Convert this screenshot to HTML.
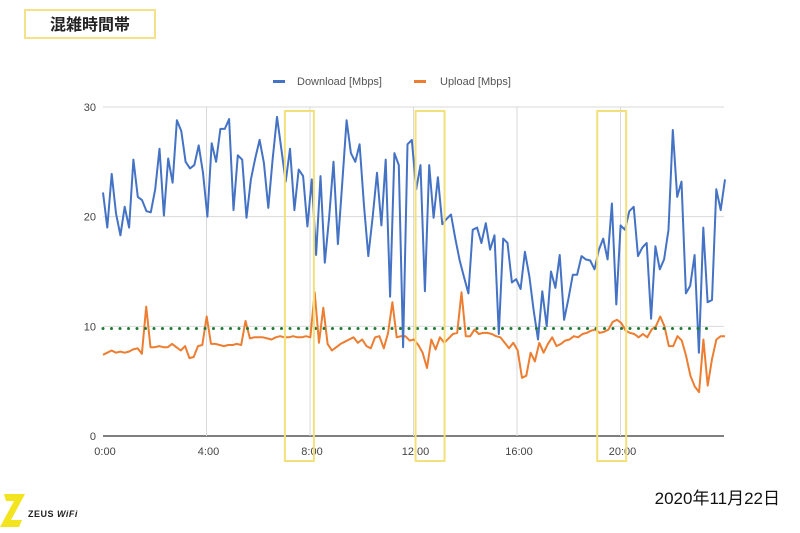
<!DOCTYPE html>
<html><head><meta charset="utf-8"><style>
body{margin:0;background:#fff;width:800px;height:533px;overflow:hidden;font-family:"Liberation Sans","Noto Sans CJK JP",sans-serif;}
</style></head><body>
<svg id="chart" width="800" height="533" xmlns="http://www.w3.org/2000/svg" style="position:absolute;left:0;top:0">
<rect x="25" y="10" width="130" height="28" fill="#fff" stroke="#f3e28a" stroke-width="2"/>
<text x="90" y="30" text-anchor="middle" font-size="16" font-weight="bold" fill="#222" font-family="Liberation Sans, Noto Sans CJK JP, sans-serif">混雑時間帯</text>
<g>
<rect x="273" y="80" width="12" height="3" fill="#4472c4"/>
<text x="297" y="85" font-size="11" fill="#555">Download [Mbps]</text>
<rect x="414" y="80" width="12" height="3" fill="#ed7d31"/>
<text x="440" y="85" font-size="11" fill="#555">Upload [Mbps]</text>
</g>
<g id="grid"></g>
<g id="series"></g>
<g id="boxes"></g>
<text x="780" y="504" text-anchor="end" font-size="17" fill="#111" font-family="Liberation Sans, Noto Sans CJK JP, sans-serif">2020年11月22日</text>
<g>
<polygon points="4,494 25,494 11,520 22,520 19,527 0,527 14,501 6,501" fill="#f2e41e"/>
<text x="28" y="517" font-size="9" font-weight="bold" fill="#222" letter-spacing="0.5">ZEUS <tspan font-style="italic">WiFi</tspan></text>
</g>
</svg>
<script>
const yTicks=[0,10,20,30];
const xTickLabels=["0:00","4:00","8:00","12:00","16:00","20:00"];
const xTickHours=[0,4,8,12,16,20];
const download=[22.2,19,23.9,20.3,18.3,20.9,19,25.2,21.8,21.5,20.5,20.4,22.5,26.2,20.1,25.3,23.1,28.8,27.8,25,24.4,24.7,26.5,24,20,26.7,25,28,28,28.9,20.6,25.6,25.2,19.9,23.4,25.3,27,24.9,20.8,25.2,29.1,26.2,23.2,26.2,20.6,24.3,23.7,19.1,
23.4,16.5,23.7,15.8,20,25,17.5,23,28.8,25.8,25,26.6,21,16.4,20,24,19.2,25.2,12.7,25.8,24.7,8.1,26.6,27,22.5,24.7,13.2,24.7,19.9,23.6,19.3,19.8,20.2,18,16,14.5,13,18.8,19,17.6,19.4,17,18.3,9.3,18,17.6,14,
14.3,13.4,16.8,14.6,11.5,8.8,13.2,10,15,13.5,16.5,10.6,12.5,14.7,14.7,16.4,16.1,16,15.2,17,18,16.1,21.2,12,19.2,18.8,20.5,20.9,16.4,17.2,17.6,10.7,17.3,15.2,16.1,18.8,27.9,21.8,23.2,13,13.7,16.5,7.6,19,12.2,12.4,22.5,20.6,23.4];
const upload=[7.4,7.6,7.8,7.6,7.7,7.6,7.7,7.9,8,7.5,11.8,8.1,8.1,8.2,8.1,8.1,8.4,8.1,7.8,8.2,7.1,7.2,8.2,8.3,10.9,8.4,8.4,8.3,8.2,8.3,8.3,8.4,8.3,10.5,8.9,9.0,9.0,9.0,8.9,8.8,9.0,9.1,9.0,9.0,9.1,9.0,9.0,9.1,
9.0,13.1,8.5,11.7,8.4,7.8,8.1,8.4,8.6,8.8,9.0,8.5,8.8,8.2,8.0,9.0,9.1,8.0,9.4,12.2,9.0,9.1,9.1,8.7,8.8,8.3,7.6,6.2,8.8,7.9,9.0,8.5,8.9,9.3,9.4,13.1,9.1,9.1,9.7,9.3,9.4,9.4,9.3,9.1,9.0,8.5,8.0,
8.5,7.8,5.3,5.5,7.6,6.8,8.5,7.6,8.4,9.0,8.2,8.4,8.7,8.8,9.1,9.0,9.3,9.4,9.6,9.7,9.4,9.5,9.7,10.4,10.6,10.3,9.6,9.4,9.3,9.0,9.3,9.0,9.7,10.0,10.9,10.0,8.2,8.2,9.1,8.7,7.3,5.5,4.5,4.0,8.8,4.6,7.0,8.8,9.1,9.1];
const threshold=[9.8];
const highlightHours=[[7.03,8.15],[12.08,13.2],[19.1,20.22]];
const NS="http://www.w3.org/2000/svg";
const X0=103,X1=724,Y0=436,Y30=107;
const xH=h=>X0+h/24*(X1-X0);
const y=v=>Y0-v/30*(Y0-Y30);
function mk(tag,attrs,parent){const e=document.createElementNS(NS,tag);for(const k in attrs)e.setAttribute(k,attrs[k]);parent.appendChild(e);return e;}
const grid=document.getElementById('grid');
yTicks.forEach(t=>{
 const l=mk('line',{x1:X0,x2:X1,y1:y(t),y2:y(t),stroke:t===0?'#333':'#d9d9d9','stroke-width':t===0?1.2:1},grid);
 
 
 const tx=mk('text',{x:96,y:y(t)+4,'text-anchor':'end','font-size':11,fill:'#444'},grid);tx.textContent=t;
 
 
});
xTickHours.forEach((h,i)=>{
 if(h>0){const l=mk('line',{x1:xH(h),x2:xH(h),y1:Y30,y2:Y0,stroke:'#d9d9d9'},grid);
 
 }
 const tx=mk('text',{x:xH(h)+2,y:455,'text-anchor':'middle','font-size':11,fill:'#444'},grid);tx.textContent=xTickLabels[i];
 
 
});
const ser=document.getElementById('series');
function line(arr,color,name){
 const step=(X1-X0+1)/(arr.length-1);
 const pts=arr.map((v,i)=>(X0+i*step).toFixed(1)+','+y(v).toFixed(1)).join(' ');
 const p=mk('polyline',{points:pts,fill:'none',stroke:color,'stroke-width':2,'stroke-linejoin':'round'},ser);
 
 
}
line(upload,'#ed7d31','upload-line');
line(download,'#4472c4','download-line');
const th=mk('line',{x1:X0,x2:715,y1:y(threshold[0]),y2:y(threshold[0]),stroke:'#1e7b34','stroke-width':3,'stroke-dasharray':'0 8.5','stroke-linecap':'round'},ser);


const bx=document.getElementById('boxes');
highlightHours.forEach(r=>{
 const b=mk('rect',{x:xH(r[0]),y:111,width:xH(r[1])-xH(r[0]),height:350,fill:'none',stroke:'#f3e07a','stroke-width':2},bx);
 
 
});
</script>
</body></html>
